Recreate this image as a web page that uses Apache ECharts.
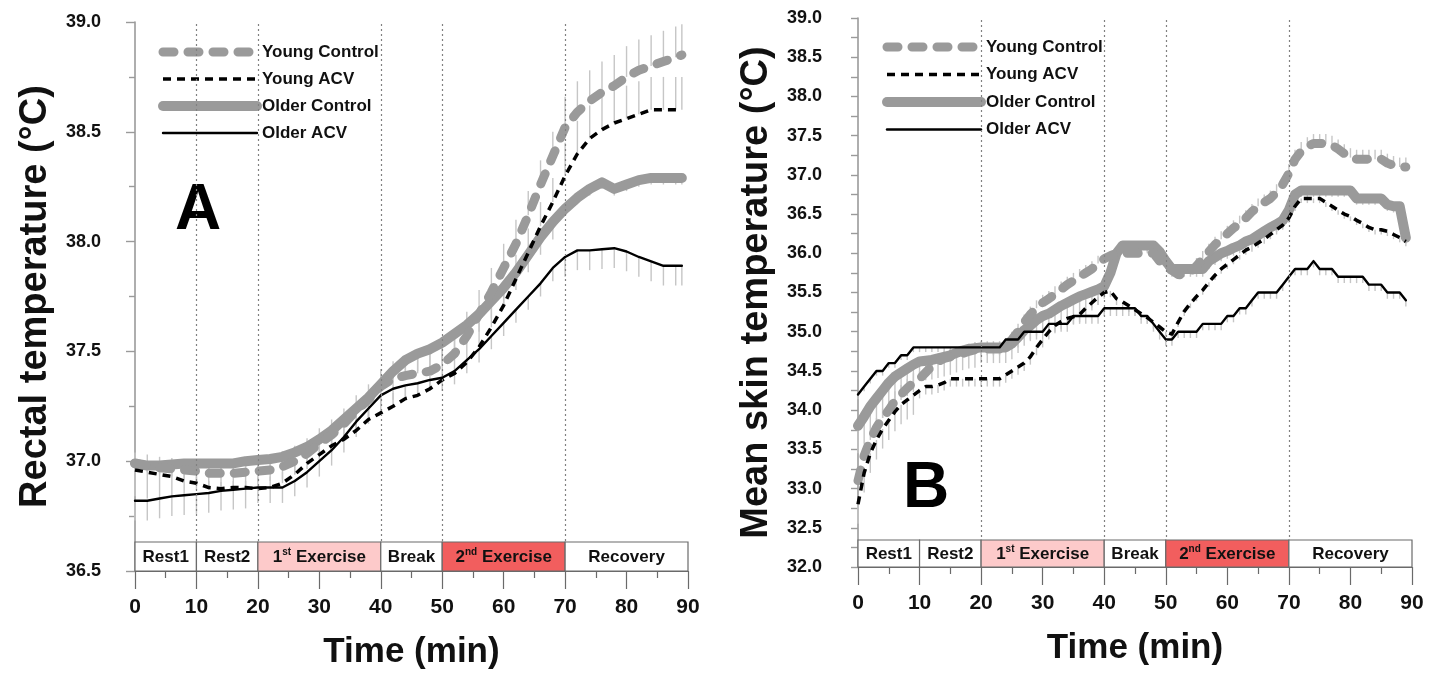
<!DOCTYPE html>
<html><head><meta charset="utf-8">
<script src="https://cdn.jsdelivr.net/npm/echarts@6/dist/echarts.min.js"></script>
<style>html,body{margin:0;padding:0;background:#fff}#c{width:1442px;height:677px}</style>
</head><body><div id="c"></div>
<script>
// ---------------- DATA ----------------
const seriesNames = ['Young Control', 'Young ACV', 'Older Control', 'Older ACV'];

// Panel A: rectal temperature (°C), sampled every 2 min
const timeA = [0,2,4,6,8,10,12,14,16,18,20,22,24,26,28,30,32,34,36,38,40,42,44,46,48,50,52,54,56,58,60,62,64,66,68,70,72,74,76,78,80,82,84,86,88,89];
const rectalYoungControl = [36.99,36.98,36.97,36.965,36.96,36.955,36.945,36.945,36.945,36.95,36.955,36.96,36.975,37.00,37.035,37.08,37.12,37.17,37.23,37.28,37.34,37.375,37.39,37.40,37.41,37.44,37.49,37.57,37.67,37.77,37.88,37.99,38.12,38.26,38.39,38.52,38.59,38.64,38.68,38.71,38.75,38.78,38.80,38.82,38.84,38.85];
const rectalYoungACV = [36.96,36.95,36.94,36.93,36.91,36.90,36.88,36.875,36.88,36.88,36.875,36.88,36.90,36.94,36.99,37.03,37.07,37.10,37.14,37.19,37.22,37.25,37.285,37.30,37.33,37.37,37.40,37.45,37.52,37.61,37.71,37.83,37.95,38.07,38.18,38.30,38.40,38.47,38.51,38.54,38.56,38.58,38.60,38.60,38.60,38.60];
const rectalOlderControl = [36.99,36.98,36.98,36.985,36.99,36.99,36.99,36.99,36.99,37.00,37.005,37.01,37.02,37.04,37.065,37.10,37.14,37.19,37.24,37.29,37.35,37.41,37.46,37.49,37.51,37.54,37.58,37.62,37.67,37.73,37.79,37.86,37.94,38.02,38.09,38.15,38.20,38.24,38.27,38.24,38.26,38.28,38.29,38.29,38.29,38.29];
const rectalOlderACV = [36.82,36.82,36.83,36.84,36.845,36.85,36.855,36.865,36.87,36.875,36.88,36.88,36.88,36.91,36.95,37.00,37.05,37.11,37.18,37.24,37.30,37.33,37.345,37.355,37.37,37.38,37.41,37.46,37.51,37.57,37.63,37.69,37.75,37.81,37.88,37.93,37.96,37.96,37.965,37.97,37.955,37.93,37.91,37.89,37.89,37.89];
// error bar size per phase (Rest1, Rest2, 1st Ex, Break, 2nd Ex, Recovery)
const rectalSdYoungControl = [0.05,0.05,0.07,0.08,0.11,0.14];
const rectalSdYoungACV = [0.03,0.03,0.05,0.06,0.11,0.15];
const rectalSdOlderControl = [0.15,0.12,0.10,0.08,0.08,0.03];
const rectalSdOlderACV = [0.09,0.09,0.07,0.05,0.06,0.09];

// Panel B: mean skin temperature (°C), sampled every 1 min
const timeB = [0,1,2,3,4,5,6,7,8,9,10,11,12,13,14,15,16,17,18,19,20,21,22,23,24,25,26,27,28,29,30,31,32,33,34,35,36,37,38,39,40,41,42,43,44,45,46,47,48,49,50,51,52,53,54,55,56,57,58,59,60,61,62,63,64,65,66,67,68,69,70,71,72,73,74,75,76,77,78,79,80,81,82,83,84,85,86,87,88,89];
const skinYoungControl = [
  33.1,33.42,33.62,33.78,33.9,34.0,34.12,34.2,34.28,34.35,
  34.4,34.48,34.56,34.62,34.66,34.68,34.7,34.72,34.75,34.77,
  34.78,34.78,34.78,34.78,34.82,34.9,35.0,35.12,35.22,35.3,
  35.37,35.42,35.48,35.54,35.6,35.65,35.7,35.75,35.8,35.87,
  35.93,35.97,36.0,36.0,36.0,36.0,36.0,36.0,36.0,35.9,
  35.83,35.78,35.73,35.72,35.76,35.84,35.93,36.02,36.11,36.18,
  36.25,36.32,36.38,36.45,36.53,36.6,36.65,36.7,36.78,36.88,
  37.02,37.2,37.3,37.36,37.4,37.4,37.4,37.38,37.33,37.27,
  37.22,37.2,37.2,37.2,37.2,37.2,37.15,37.12,37.1,37.1];
const skinYoungACV = [
  32.8,33.2,33.45,33.62,33.76,33.87,33.98,34.07,34.13,34.19,
  34.25,34.3,34.3,34.32,34.35,34.4,34.4,34.4,34.4,34.4,
  34.4,34.4,34.4,34.4,34.45,34.5,34.55,34.6,34.68,34.8,
  34.9,35.0,35.08,35.13,35.17,35.19,35.22,35.3,35.37,35.44,
  35.5,35.52,35.42,35.38,35.33,35.28,35.23,35.18,35.12,35.06,
  35.0,34.97,35.12,35.26,35.36,35.45,35.53,35.63,35.72,35.8,
  35.86,35.92,35.98,36.04,36.08,36.13,36.18,36.24,36.3,36.36,
  36.45,36.6,36.7,36.7,36.7,36.7,36.65,36.6,36.55,36.5,
  36.47,36.42,36.38,36.33,36.3,36.3,36.28,36.24,36.2,36.15];
const skinOlderControl = [
  33.8,33.92,34.05,34.15,34.25,34.35,34.43,34.48,34.53,34.58,
  34.62,34.63,34.64,34.66,34.68,34.7,34.73,34.76,34.78,34.79,
  34.8,34.8,34.8,34.8,34.8,34.85,34.93,35.02,35.08,35.15,
  35.2,35.23,35.28,35.33,35.37,35.41,35.45,35.48,35.51,35.54,
  35.58,35.75,36.0,36.1,36.1,36.1,36.1,36.1,36.1,36.02,
  35.9,35.8,35.8,35.8,35.8,35.8,35.8,35.9,35.95,36.0,
  36.03,36.07,36.1,36.15,36.18,36.23,36.28,36.33,36.37,36.42,
  36.55,36.75,36.8,36.8,36.8,36.8,36.8,36.8,36.8,36.8,
  36.8,36.7,36.7,36.7,36.7,36.7,36.62,36.6,36.6,36.2];
const skinOlderACV = [
  34.2,34.3,34.4,34.5,34.5,34.6,34.6,34.7,34.7,34.8,
  34.8,34.8,34.8,34.8,34.8,34.8,34.8,34.8,34.8,34.8,
  34.8,34.8,34.8,34.8,34.9,34.9,34.9,35.0,35.0,35.0,
  35.0,35.1,35.1,35.1,35.1,35.2,35.2,35.2,35.2,35.2,
  35.3,35.3,35.3,35.3,35.3,35.3,35.2,35.2,35.1,35.0,
  34.9,34.9,35.0,35.0,35.0,35.0,35.1,35.1,35.1,35.1,
  35.2,35.2,35.3,35.3,35.4,35.5,35.5,35.5,35.5,35.6,
  35.7,35.8,35.8,35.8,35.9,35.8,35.8,35.8,35.7,35.7,
  35.7,35.7,35.7,35.6,35.6,35.6,35.5,35.5,35.5,35.4];
const skinSdYoungControl = [0.12,0.10,0.10,0.06,0.10,0.12];
const skinSdYoungACV = [0.25,0.10,0.10,0.08,0.06,0.06];
const skinSdOlderControl = [0.35,0.25,0.20,0.08,0.10,0.08];
const skinSdOlderACV = [0.06,0.06,0.10,0.10,0.08,0.08];

// error bar direction per series: +1 up, -1 down
const rectalSdDirection = [1, 1, -1, -1];
const skinSdDirection = [1, -1, -1, -1];

// Phases
const phaseStarts = [0, 10, 20, 40, 50, 70];
const phaseEnds = [10, 20, 40, 50, 70, 90];
const phaseLabels = ['Rest1', 'Rest2', '1{s|st} Exercise', 'Break', '2{s|nd} Exercise', 'Recovery'];
const phaseLinesA = [10, 20, 40, 50, 70];
const phaseLinesB = [20, 40, 50, 70];

// Axis ranges
const yRangeA = [36.5, 39.0];
const yRangeB = [32.0, 39.0];
const xRange = [0, 90];

// ---------------- STYLES / OPTION ----------------
const FF = 'Liberation Sans, Arial, Helvetica, sans-serif';
const GREY = '#9a9a9a';
const PHASE_FILL = ['#ffffff', '#ffffff', '#fdcaca', '#ffffff', '#f25e5e', '#ffffff'];
const LINE_STYLES = [
  { color: GREY, width: 9, type: [11, 14], cap: 'round', join: 'round' },
  { color: '#000', width: 3.5, type: [8, 6], cap: 'butt' },
  { color: GREY, width: 10, type: 'solid', cap: 'round', join: 'round' },
  { color: '#000', width: 2.4, type: 'solid', cap: 'round', join: 'round' }
];
const DRAW_ORDER = [2, 0, 1, 3];

const chart = echarts.init(document.getElementById('c'), null, { renderer: 'canvas' });

function phaseIndex(t) {
  let k = 0;
  for (let i = 0; i < phaseStarts.length; i++) if (t >= phaseStarts[i]) k = i;
  return k;
}

function errorSeries(tag, axisIdx, times, vals, sdArr, dir, markLines) {
  const s = {
    type: 'custom', name: tag, xAxisIndex: axisIdx, yAxisIndex: axisIdx, z: 1, silent: true,
    data: times.map((t, i) => [t, vals[i], dir * sdArr[phaseIndex(t)]]),
    encode: { x: 0, y: 1 },
    renderItem: function (params, api) {
      const a = api.coord([api.value(0), api.value(1)]);
      const b = api.coord([api.value(0), api.value(1) + api.value(2)]);
      return { type: 'line', shape: { x1: a[0], y1: a[1], x2: b[0], y2: b[1] },
        style: { stroke: '#c6c6c6', lineWidth: 1.4 } };
    }
  };
  if (markLines) {
    s.markLine = { symbol: 'none', silent: true, label: { show: false }, animation: false,
      lineStyle: { type: [2, 3], color: '#808080', width: 1.2 },
      data: markLines.map(x => ({ xAxis: x })) };
  }
  return s;
}

function lineSeries(k, axisIdx, times, vals) {
  const ls = LINE_STYLES[k];
  return {
    type: 'line', name: seriesNames[k], xAxisIndex: axisIdx, yAxisIndex: axisIdx, z: 3,
    showSymbol: false, symbol: 'none', silent: true,
    data: times.map((t, i) => [t, vals[i]]),
    lineStyle: { color: ls.color, width: ls.width, type: ls.type, cap: ls.cap, join: ls.join || 'round' },
    itemStyle: { color: ls.color }
  };
}

function phaseSeries(axisIdx) {
  return {
    type: 'custom', xAxisIndex: axisIdx, yAxisIndex: axisIdx, z: 10, silent: true,
    data: phaseStarts.map((s, i) => [s, phaseEnds[i], i]),
    encode: { x: [0, 1] },
    renderItem: function (params, api) {
      const i = api.value(2);
      const p0 = api.coord([api.value(0), 1]);
      const p1 = api.coord([api.value(1), 0]);
      return { type: 'group', children: [
        { type: 'rect', shape: { x: p0[0], y: p0[1], width: p1[0] - p0[0], height: p1[1] - p0[1] },
          style: { fill: PHASE_FILL[i], stroke: '#6a6a6a', lineWidth: 1.2 } },
        { type: 'text', x: (p0[0] + p1[0]) / 2, y: (p0[1] + p1[1]) / 2 + 1,
          style: { text: phaseLabels[i], align: 'center', verticalAlign: 'middle',
            fontSize: 17, fontWeight: 'bold', fontFamily: FF, fill: '#111', lineHeight: 20,
            rich: { s: { fontSize: 10, fontWeight: 'bold', fontFamily: FF, fill: '#111', lineHeight: 11, verticalAlign: 'top' } } } }
      ] };
    }
  };
}

function mainXAxis(gi) {
  return {
    gridIndex: gi, type: 'value', min: xRange[0], max: xRange[1], interval: 10,
    axisLine: { show: true, onZero: false, lineStyle: { color: '#6a6a6a', width: 1.2 } },
    axisTick: { show: true, length: 18, lineStyle: { color: '#6a6a6a', width: 1.2 } },
    minorTick: { show: true, splitNumber: 2, length: 7, lineStyle: { color: '#6a6a6a', width: 1.2 } },
    splitLine: { show: false },
    axisLabel: { fontSize: 21, fontWeight: 'bold', color: '#111', fontFamily: FF, margin: 26 },
    name: 'Time (min)', nameLocation: 'middle', nameGap: 64,
    nameTextStyle: { fontSize: 35, fontWeight: 'bold', color: '#111', fontFamily: FF }
  };
}
function mainYAxis(gi, range, name, tickLen, minorLen, nameGap, margin) {
  return {
    gridIndex: gi, type: 'value', min: range[0], max: range[1], interval: 0.5,
    axisLine: { show: true, onZero: false, lineStyle: { color: '#9a9a9a', width: 1.6 } },
    axisTick: { show: true, length: tickLen, lineStyle: { color: '#9a9a9a', width: 1.4 } },
    minorTick: { show: true, splitNumber: 2, length: minorLen, lineStyle: { color: '#9a9a9a', width: 1.4 } },
    splitLine: { show: false },
    axisLabel: { fontSize: 18, fontWeight: 'bold', color: '#111', fontFamily: FF, margin: margin,
      formatter: v => v.toFixed(1) },
    name: name, nameLocation: 'middle', nameGap: nameGap, nameRotate: 90,
    nameTextStyle: { fontSize: 38, fontWeight: 'bold', color: '#111', fontFamily: FF }
  };
}
function hiddenAxis(gi, min, max) {
  return { gridIndex: gi, type: 'value', min: min, max: max, show: false };
}

const legendCommon = {
  orient: 'vertical', itemWidth: 94, itemHeight: 20, selectedMode: false,
  data: seriesNames,
  textStyle: { fontSize: 17, fontWeight: 'bold', color: '#111', fontFamily: FF, lineHeight: 20 },
  itemStyle: { opacity: 0 },
  lineStyle: { width: 'inherit' }
};

const series = [];
series.push(errorSeries('sdA0', 0, timeA, rectalYoungControl, rectalSdYoungControl, rectalSdDirection[0], phaseLinesA));
series.push(errorSeries('sdA1', 0, timeA, rectalYoungACV, rectalSdYoungACV, rectalSdDirection[1]));
series.push(errorSeries('sdA2', 0, timeA, rectalOlderControl, rectalSdOlderControl, rectalSdDirection[2]));
series.push(errorSeries('sdA3', 0, timeA, rectalOlderACV, rectalSdOlderACV, rectalSdDirection[3]));
series.push(errorSeries('sdB0', 1, timeB, skinYoungControl, skinSdYoungControl, skinSdDirection[0], phaseLinesB));
series.push(errorSeries('sdB1', 1, timeB, skinYoungACV, skinSdYoungACV, skinSdDirection[1]));
series.push(errorSeries('sdB2', 1, timeB, skinOlderControl, skinSdOlderControl, skinSdDirection[2]));
series.push(errorSeries('sdB3', 1, timeB, skinOlderACV, skinSdOlderACV, skinSdDirection[3]));
const rectal = [rectalYoungControl, rectalYoungACV, rectalOlderControl, rectalOlderACV];
const skin = [skinYoungControl, skinYoungACV, skinOlderControl, skinOlderACV];
DRAW_ORDER.forEach(k => series.push(lineSeries(k, 0, timeA, rectal[k])));
DRAW_ORDER.forEach(k => series.push(lineSeries(k, 1, timeB, skin[k])));
series.push(phaseSeries(2));
series.push(phaseSeries(3));

// legend lookup uses first series of each name -> move named line series before error series
series.sort((a, b) => (a.type === 'line' ? 0 : 1) - (b.type === 'line' ? 0 : 1));

chart.setOption({
  animation: false,
  backgroundColor: '#ffffff',
  textStyle: { fontFamily: FF },
  grid: [
    { left: 135, top: 22, width: 553, height: 549 },
    { left: 858, top: 18, width: 554, height: 549 },
    { left: 135, top: 542, width: 553, height: 29 },
    { left: 858, top: 540, width: 554, height: 27 }
  ],
  xAxis: [mainXAxis(0), mainXAxis(1), hiddenAxis(2, 0, 90), hiddenAxis(3, 0, 90)],
  yAxis: [
    mainYAxis(0, yRangeA, 'Rectal temperature (°C)', 9, 6, 80, 34),
    mainYAxis(1, yRangeB, 'Mean skin temperature (°C)', 7, 7, 82, 36),
    hiddenAxis(2, 0, 1), hiddenAxis(3, 0, 1)
  ],
  legend: [
    Object.assign({}, legendCommon, { left: 153, top: 37, itemGap: 7 }),
    Object.assign({}, legendCommon, { left: 877, top: 32, itemGap: 7.5 })
  ],
  graphic: [
    { type: 'text', x: 198, y: 211, style: { text: 'A', fontSize: 64, fontWeight: 'bold', fontFamily: FF, fill: '#000', align: 'center', verticalAlign: 'middle' } },
    { type: 'text', x: 926, y: 489, style: { text: 'B', fontSize: 64, fontWeight: 'bold', fontFamily: FF, fill: '#000', align: 'center', verticalAlign: 'middle' } }
  ],
  series: series
});
</script>
</body></html>
